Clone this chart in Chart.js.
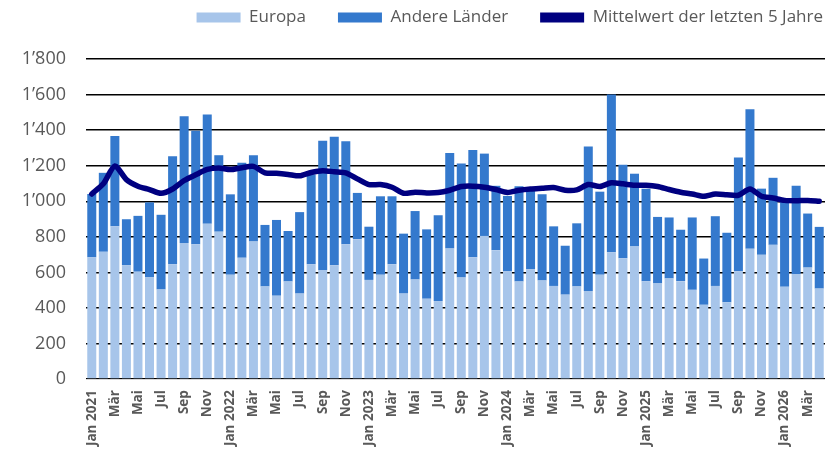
<!DOCTYPE html>
<html>
<head>
<meta charset="utf-8">
<script src="https://cdn.jsdelivr.net/npm/chart.js@4"></script>
<style>
  html, body { margin: 0; padding: 0; background: #fff; }
  #chart { display: block; }
</style>
</head>
<body>
<canvas id="chart" width="825" height="457"></canvas>
<script>
const monate = ['Jan', 'Feb', 'Mär', 'Apr', 'Mai', 'Jun', 'Jul', 'Aug', 'Sep', 'Okt', 'Nov', 'Dez'];
const jahre = [2021, 2022, 2023, 2024, 2025, 2026];
const anzahlMonate = 64; // Jan 2021 .. Apr 2026

const europa = [
  685, 716, 859, 640, 604, 572, 504, 646, 765, 759, 873, 829,
  587, 683, 774, 521, 469, 549, 481, 646, 613, 640, 759, 787,
  558, 587, 646, 481, 560, 452, 439, 734, 572, 685, 805, 725,
  606, 549, 617, 555, 524, 475, 521, 496, 587, 714, 680, 746,
  551, 538, 566, 551, 502, 418, 524, 432, 606, 733, 699, 755,
  519, 591, 627, 509
];
const andereLaender = [
  356, 444, 508, 259, 314, 422, 420, 607, 713, 638, 615, 430,
  452, 534, 485, 346, 426, 284, 458, 504, 727, 723, 579, 260,
  299, 441, 382, 337, 385, 390, 483, 538, 640, 604, 463, 362,
  424, 536, 448, 484, 335, 275, 355, 812, 467, 886, 526, 409,
  519, 374, 343, 289, 407, 260, 392, 391, 640, 785, 372, 377,
  481, 497, 304, 347
];
const mittelwert5J = [
  1041, 1098, 1198, 1122, 1085, 1066, 1045, 1069, 1117, 1149, 1179, 1187,
  1178, 1189, 1196, 1160, 1157, 1151, 1143, 1162, 1172, 1166, 1160, 1126,
  1094, 1094, 1079, 1045, 1051, 1047, 1049, 1062, 1083, 1085, 1079, 1066,
  1050, 1062, 1069, 1073, 1077, 1062, 1064, 1094, 1083, 1104, 1098, 1090,
  1090, 1083, 1066, 1051, 1041, 1028, 1041, 1037, 1034, 1069, 1028, 1018,
  1005, 1003, 1005, 1000
];
const yTicks = [0, 200, 400, 600, 800, 1000, 1200, 1400, 1600, 1800];

const labels = [];
for (let i = 0; i < anzahlMonate; i++) {
  const m = monate[i % 12];
  labels.push(m === 'Jan' ? m + ' ' + jahre[Math.floor(i / 12)] : m);
}

const grau = '#595959';
const schrift = '"Open Sans", "Noto Sans", sans-serif';
const legendAbstand = 32;

function tausender(v) {
  if (v < 1000) return String(v);
  return Math.floor(v / 1000) + '’' + String(v % 1000).padStart(3, '0');
}

// Legende rechtsbündig bis knapp an den Rand, nah am oberen Rand
const legendePosition = {
  id: 'legendePosition',
  afterLayout(chart) {
    const lg = chart.legend;
    if (!lg) return;
    lg.right = 823 + legendAbstand;
    lg.top = 16 - 7 - legendAbstand;
  }
};

const ctx = document.getElementById('chart').getContext('2d');
new Chart(ctx, {
  type: 'bar',
  data: {
    labels: labels,
    datasets: [
      {
        label: 'Europa',
        data: europa,
        backgroundColor: '#A7C5EA',
        stack: 'total',
        order: 1,
        barPercentage: 0.78,
        categoryPercentage: 1
      },
      {
        label: 'Andere Länder',
        data: andereLaender,
        backgroundColor: '#3479CD',
        stack: 'total',
        order: 1,
        barPercentage: 0.78,
        categoryPercentage: 1
      },
      {
        type: 'line',
        label: 'Mittelwert der letzten 5 Jahre',
        data: mittelwert5J,
        borderColor: '#000080',
        backgroundColor: '#000080',
        borderWidth: 5.5,
        tension: 0.25,
        pointRadius: 0,
        borderCapStyle: 'round',
        borderJoinStyle: 'round',
        stack: 'linie',
        order: 0
      }
    ]
  },
  options: {
    responsive: false,
    animation: false,
    layout: { padding: { top: 6, right: 0, left: 0, bottom: 0 } },
    plugins: {
      tooltip: { enabled: false },
      legend: {
        position: 'top',
        align: 'end',
        maxHeight: 53,
        labels: {
          color: grau,
          font: { family: schrift, size: 17 },
          boxWidth: 44,
          boxHeight: 10,
          padding: legendAbstand,
          sort: (a, b) => a.datasetIndex - b.datasetIndex,
          generateLabels: (chart) => {
            const items = Chart.defaults.plugins.legend.labels.generateLabels(chart);
            items.forEach(it => { it.lineWidth = 0; it.strokeStyle = 'rgba(0,0,0,0)'; });
            return items;
          }
        }
      }
    },
    scales: {
      x: {
        stacked: true,
        grid: { display: false, drawTicks: false },
        border: { display: true, color: '#d9d9d9', width: 1 },
        afterFit: (scale) => { scale.paddingLeft = 0; scale.paddingRight = 0; },
        ticks: {
          autoSkip: false,
          minRotation: 90,
          maxRotation: 90,
          padding: 11,
          color: grau,
          font: { family: schrift, size: 13.5, weight: 'bold' },
          callback: function (value, index) {
            return index % 2 === 0 ? labels[index] : '';
          }
        }
      },
      y: {
        stacked: true,
        min: 0,
        max: 1800,
        afterBuildTicks: (scale) => { scale.ticks = yTicks.map(v => ({ value: v })); },
        afterFit: (scale) => { scale.width = 86; },
        grid: { color: '#000', lineWidth: 1.5, drawTicks: false },
        border: { display: false },
        ticks: {
          padding: 20,
          color: grau,
          font: { family: schrift, size: 18 },
          callback: (v) => tausender(v)
        }
      }
    }
  },
  plugins: [legendePosition]
});
</script>
</body>
</html>
